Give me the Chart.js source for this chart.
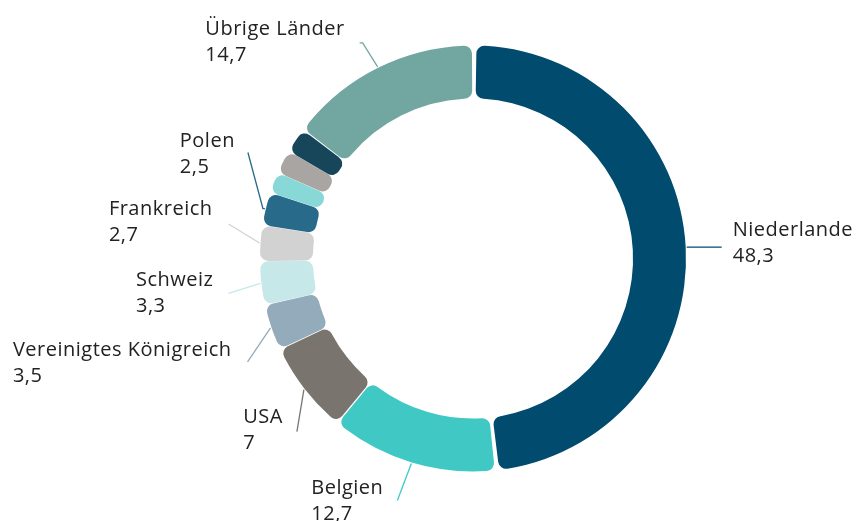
<!DOCTYPE html>
<html lang="de">
<head>
<meta charset="utf-8">
<title>Exporte nach Ländern</title>
<script src="https://cdn.jsdelivr.net/npm/chart.js@4"></script>
<style>
  html, body { margin: 0; padding: 0; background: #fff; }
  #wrap { width: 860px; height: 521px; }
</style>
</head>
<body>
<div id="wrap"><canvas id="chart"></canvas></div>
<script>
// Anteile in Prozent, im Uhrzeigersinn ab 12 Uhr
const categories = ['Niederlande', 'Belgien', 'USA', 'Vereinigtes Königreich', 'Schweiz',
    'Frankreich', 'Polen', '', '', '', 'Übrige Länder'];
const shares = [48.3, 12.7, 7, 3.5, 3.3, 2.7, 2.5, 1.6, 1.8, 1.9, 14.7];
const colors = ['#004b6e', '#40c8c5', '#79746e', '#93abbb', '#c6e8e8',
    '#d2d2d2', '#286a8a', '#88d8d8', '#a8a5a2', '#17465a', '#72a6a0'];

// Beschriftung: Knickpunkte der Linie und Textlage relativ zum Segmentrand
const labelLayout = [
    { line: [[35, 0]], text: [46, -11], anchor: 'left' },
    { line: [[-14, 37]], text: [-28, 31], anchor: 'right' },
    { line: [[-7, 42]], text: [-21, 33], anchor: 'right' },
    { line: [[-23, 34]], text: [-39, 28], anchor: 'right' },
    { line: [[-32, 10]], text: [-47, 3], anchor: 'right' },
    { line: [[-31, -19]], text: [-47, -28], anchor: 'right' },
    { line: [[-2, 0], [-17, -56]], text: [-30, -62], anchor: 'right' },
    null, null, null,
    { line: [[-15, -24], [-18, -24]], text: [-33, -32], anchor: 'right' }
];

const fmt = v => v.toLocaleString('de-DE');

const leaderLabels = {
    id: 'leaderLabels',
    afterDatasetsDraw(chart) {
        const ctx = chart.ctx;
        const meta = chart.getDatasetMeta(0);
        ctx.save();
        ctx.font = '20px "Open Sans"';
        ctx.letterSpacing = '0.5px';
        ctx.textBaseline = 'alphabetic';
        ctx.textAlign = 'left';
        meta.data.forEach((arc, i) => {
            const lay = labelLayout[i];
            if (!categories[i] || !lay) return;
            const p = arc.getProps(['x', 'y', 'startAngle', 'endAngle', 'outerRadius'], true);
            const mid = (p.startAngle + p.endAngle) / 2;
            const r = p.outerRadius + 3;
            const ax = p.x + Math.cos(mid) * r;
            const ay = p.y + Math.sin(mid) * r;

            ctx.beginPath();
            ctx.strokeStyle = colors[i];
            ctx.lineWidth = 1.3;
            ctx.moveTo(ax, ay);
            lay.line.forEach(pt => ctx.lineTo(ax + pt[0], ay + pt[1]));
            ctx.stroke();

            const lines = [categories[i], fmt(shares[i])];
            const w = Math.max(...lines.map(t => ctx.measureText(t).width));
            let tx = ax + lay.text[0];
            if (lay.anchor === 'right') tx -= w;
            const ty = ay + lay.text[1];
            ctx.fillStyle = '#222222';
            lines.forEach((t, k) => ctx.fillText(t, tx, ty + k * 26));
        });
        ctx.restore();
    }
};

new Chart(document.getElementById('chart'), {
    type: 'doughnut',
    data: {
        labels: categories,
        datasets: [{
            data: shares,
            backgroundColor: colors,
            borderWidth: 0,
            borderRadius: 8,
            spacing: 4,
            hoverOffset: 0
        }]
    },
    options: {
        responsive: true,
        maintainAspectRatio: false,
        animation: false,
        radius: 211,
        cutout: '74.9%',
        layout: { padding: { left: 86, right: 0, top: 0, bottom: 4 } },
        plugins: {
            legend: { display: false },
            tooltip: { enabled: false }
        },
        events: []
    },
    plugins: [leaderLabels]
});
</script>
</body>
</html>
